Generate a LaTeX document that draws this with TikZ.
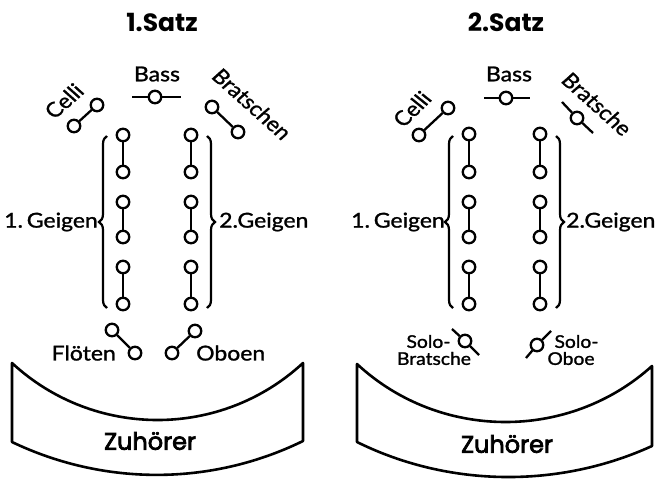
\documentclass[tikz,border=0pt]{standalone}
\usepackage{fontspec}
\setmainfont{Lato}
\newfontfamily\lblfont{Lato}[FakeBold=1.2]
\newfontfamily\titlefont{Poppins}
\newfontfamily\audfont{Poppins}[FakeBold=3]
\usetikzlibrary{decorations.pathreplacing}
\begin{document}
\begin{tikzpicture}[x=1pt,y=-1pt,
  inst/.style={circle,draw,line width=2.3pt,minimum size=12.5pt,inner sep=0pt},
  conn/.style={line width=2.3pt},
  lbl/.style={font=\lblfont\fontsize{20.5}{21}\selectfont, inner sep=0pt, xscale=1.12},
  slbl/.style={font=\lblfont\fontsize{17.5}{17}\selectfont, inner sep=0pt, align=center, xscale=1.1},
  ttl/.style={font=\titlefont\bfseries\fontsize{25}{26}\selectfont, inner sep=0pt},
  aud/.style={font=\audfont\fontsize{24}{24}\selectfont, inner sep=0pt},
  brc/.style={decorate, decoration={brace, amplitude=8pt}, line width=2.2pt},
  audbox/.style={line width=2.6pt, line join=round}
]
\useasboundingbox (0,0) rectangle (655,482);

% ================= LEFT PANEL =================
\node[ttl] (t1) at (162,22) {1.Satz};
% Bass
\node[lbl] (bassT1) at (157,74) {Bass};
\node[inst] (bass1) at (155,97) {};
\coordinate (bass1L) at (132,97);
\coordinate (bass1R) at (181,97);
\draw[conn] (bass1L) -- (bass1) (bass1) -- (bass1R);
% Celli
\node[inst] (ce1a) at (97,105) {};
\node[inst] (ce1b) at (74,126) {};
\draw[conn] (ce1a) -- (ce1b);
\node[lbl, rotate=45] (celT1) at (64,101) {Celli};
% Bratschen
\node[inst] (br1a) at (212,107) {};
\node[inst] (br1b) at (238,132) {};
\draw[conn] (br1a) -- (br1b);
\node[lbl, rotate=-45] (brT1) at (252,104) {Bratschen};
% 1. Geigen
\foreach \n/\y in {1/135,2/172,3/202,4/237,5/267,6/304}{
  \node[inst] (ga\n) at (123,\y) {};
  \node[inst] (gb\n) at (191,\y) {};
}
\draw[conn] (ga1) -- (ga2) (ga3) -- (ga4) (ga5) -- (ga6);
\draw[conn] (gb1) -- (gb2) (gb3) -- (gb4) (gb5) -- (gb6);
\coordinate (bl1b) at (107,308);
\coordinate (bl1t) at (107,136);
\coordinate (br1t) at (207,136);
\coordinate (br1bb) at (207,308);
\draw[brc] (bl1b) -- (bl1t);
\draw[brc] (br1t) -- (br1bb);
\node[lbl, anchor=east] (g1T1) at (98,222) {1.\,Geigen};
\node[lbl, anchor=west] (g2T1) at (219,222) {2.Geigen};
% Floeten / Oboen
\node[inst] (fl1a) at (112,330) {};
\node[inst] (fl1b) at (135,353) {};
\draw[conn] (fl1a) -- (fl1b);
\node[lbl, anchor=east] (flT) at (116,353) {Flöten};
\node[inst] (ob1a) at (172,353) {};
\node[inst] (ob1b) at (195,331) {};
\draw[conn] (ob1a) -- (ob1b);
\node[lbl, anchor=west] (obT) at (196,353) {Oboen};
% Zuhoerer
\draw[audbox] (12,363) .. controls (94,439) and (221,439) .. (303,363)
  -- (303,441) .. controls (211,486) and (104,486) .. (12,442) -- cycle;
\node[aud] (zu1) at (150,441) {Zuhörer};

% ================= RIGHT PANEL =================
\node[ttl] (t2) at (506,22) {2.Satz};
\node[lbl] (bassT2) at (509,74) {Bass};
\node[inst] (bass2) at (506,98) {};
\coordinate (bass2L) at (484,98);
\coordinate (bass2R) at (530,98);
\draw[conn] (bass2L) -- (bass2) (bass2) -- (bass2R);
% Celli
\node[inst] (ce2a) at (448,108) {};
\node[inst] (ce2b) at (419,135) {};
\draw[conn] (ce2a) -- (ce2b);
\node[lbl, rotate=48] (celT2) at (412,109) {Celli};
% Bratsche
\node[inst] (br2) at (577,118) {};
\coordinate (br2a) at (562,102);
\coordinate (br2b) at (593,133);
\draw[conn] (br2a) -- (br2) (br2) -- (br2b);
\node[lbl, rotate=-45] (brT2) at (597,104) {Bratsche};
% Geigen
\foreach \n/\y in {1/134,2/172,3/202,4/237,5/267,6/304}{
  \node[inst] (ha\n) at (469,\y) {};
  \node[inst] (hb\n) at (540,\y) {};
}
\draw[conn] (ha1) -- (ha2) (ha3) -- (ha4) (ha5) -- (ha6);
\draw[conn] (hb1) -- (hb2) (hb3) -- (hb4) (hb5) -- (hb6);
\coordinate (bl2b) at (453,308);
\coordinate (bl2t) at (453,136);
\coordinate (br2t) at (556,136);
\coordinate (br2bb) at (556,308);
\draw[brc] (bl2b) -- (bl2t);
\draw[brc] (br2t) -- (br2bb);
\node[lbl, anchor=east] (g1T2) at (445,222) {1.\,Geigen};
\node[lbl, anchor=west] (g2T2) at (566,222) {2.Geigen};
% Solo-Bratsche
\node[inst] (sb) at (465,341) {};
\coordinate (sba) at (452,329);
\coordinate (sbb) at (479,355);
\draw[conn] (sba) -- (sb) (sb) -- (sbb);
\node[slbl] (sbT) at (434,350) {\hspace*{-10pt}Solo-\\Bratsche};
% Solo-Oboe
\node[inst] (so) at (537,345) {};
\coordinate (soa) at (526,358);
\coordinate (sob) at (551,331);
\draw[conn] (soa) -- (so) (so) -- (sob);
\node[slbl] (soT) at (571,350) {\hspace*{10pt}Solo-\\Oboe};
% Zuhoerer
\draw[audbox] (357,364) .. controls (440,441) and (569,441) .. (652,366)
  -- (652,446) .. controls (560,488) and (450,488) .. (357,442) -- cycle;
\node[aud] (zu2) at (507,444) {Zuhörer};
\end{tikzpicture}
\end{document}
